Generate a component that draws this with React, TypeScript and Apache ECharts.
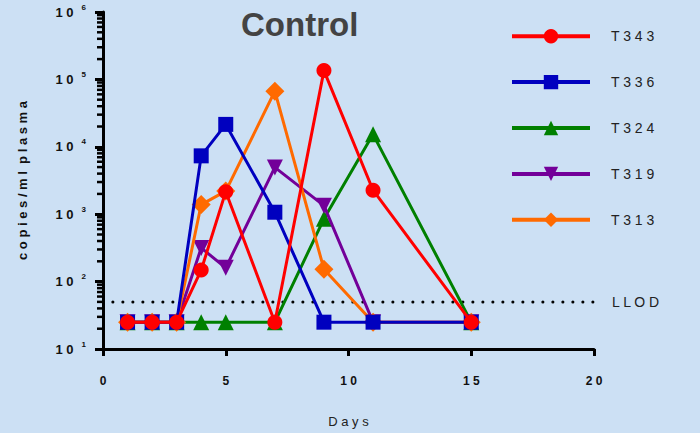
import React, { useEffect, useRef } from "react";
import * as echarts from "echarts";

const days = [1, 2, 3, 4, 5, 7, 9, 11, 15];
const t343 = [25, 25, 25, 148, 2160, 25, 135000, 2270, 25];
const t336 = [25, 25, 25, 7340, 21500, 1070, 25, 25, 25];
const t324 = [25, 25, 25, 25, 25, 25, 855, 15300, 25];
const t319 = [25, 25, 25, 316, 160, 4950, 1340, 25, 25];
const t313 = [25, 25, 25, 1390, 2200, 66800, 153, 25, 25];
const llod = 50;
const llodX = [0.4, 20.6];
const seriesNames = ["T 3 4 3", "T 3 3 6", "T 3 2 4", "T 3 1 9", "T 3 1 3"];
const xTicks = [0, 5, 10, 15, 20];
const minorMultipliers = [2, 3, 4, 5, 6, 7, 8, 9];
const decades = [10, 100, 1000, 10000, 100000];

const FONT = "Liberation Sans, Arial, sans-serif";

export default function App() {
  const ref = useRef<HTMLDivElement>(null);
  useEffect(() => {
    if (!ref.current) return;
    document.body.style.margin = "0";
    const chart = echarts.init(ref.current, null, { renderer: "svg" });
    const minorVals: number[] = [];
    decades.forEach((d) => minorMultipliers.forEach((k) => minorVals.push(k * d)));
    const mk = (name: string, vals: number[], color: string, symbol: string, size: number, z: number, rot = 0) => ({
      name,
      type: "line",
      data: days.map((d, i) => [d, vals[i]]),
      symbol,
      symbolSize: size,
      symbolRotate: rot,
      z,
      lineStyle: { color, width: 3 },
      itemStyle: { color },
      emphasis: { disabled: true },
    });
    const option: any = {
      animation: false,
      backgroundColor: "#cce0f4",
      textStyle: { fontFamily: FONT },
      title: {
        text: "Control",
        left: 236,
        top: 3,
        textStyle: { fontSize: 33, fontWeight: "bold", color: "#434343", fontFamily: FONT },
      },
      legend: {
        orient: "vertical",
        left: 505,
        top: 24,
        itemWidth: 78,
        itemHeight: 18,
        itemGap: 31.5,
        data: seriesNames,
        selectedMode: false,
        lineStyle: { width: 4 },
        textStyle: { fontSize: 14, color: "#222", fontFamily: FONT, padding: [0, 0, 0, 16] },
      },
      grid: { left: 103, right: 106, top: 12, bottom: 82 },
      xAxis: {
        type: "value",
        min: 0,
        max: 20,
        interval: 5,
        name: "D a y s",
        nameLocation: "middle",
        nameGap: 66,
        nameTextStyle: { fontSize: 13, color: "#222", fontFamily: FONT },
        axisLine: { lineStyle: { color: "#000", width: 3 } },
        axisTick: { length: 7, lineStyle: { color: "#000", width: 3 } },
        axisLabel: {
          margin: 26,
          fontSize: 12,
          fontWeight: "bold",
          color: "#111",
          fontFamily: FONT,
          formatter: (v: number) => (xTicks.includes(v) ? String(v).split("").join(" ") : ""),
        },
        splitLine: { show: false },
      },
      yAxis: {
        type: "log",
        logBase: 10,
        min: 10,
        max: 1000000,
        name: "c o p i e s / m l  p l a s m a",
        nameLocation: "middle",
        nameGap: 74,
        nameTextStyle: { fontSize: 13, fontWeight: "bold", color: "#111", fontFamily: FONT },
        axisLine: { show: true, lineStyle: { color: "#000", width: 3 } },
        axisTick: { show: true, length: 8, lineStyle: { color: "#000", width: 3 } },
        axisLabel: {
          margin: 17,
          formatter: (v: number) => `{b|1 0}{s|${Math.round(Math.log10(v))}}`,
          rich: {
            b: { fontSize: 13, fontWeight: "bold", color: "#111", fontFamily: FONT },
            s: { fontSize: 8, fontWeight: "bold", color: "#111", fontFamily: FONT, padding: [0, 0, 10, 8] },
          },
        },
        splitLine: { show: false },
      },
      series: [
        {
          name: "LLOD",
          type: "line",
          data: llodX.map((x) => [x, llod]),
          symbol: "none",
          clip: false,
          z: 1,
          silent: true,
          lineStyle: { color: "#000", width: 3, type: [0.1, 9.9], cap: "round" },
          endLabel: {
            show: true,
            formatter: "L L O D",
            distance: 16,
            fontSize: 14,
            color: "#222",
            fontFamily: FONT,
          },
        },
        mk(seriesNames[2], t324, "#008000", "triangle", 16, 2),
        mk(seriesNames[3], t319, "#730099", "triangle", 16, 3, 180),
        mk(seriesNames[4], t313, "#ff6a00", "diamond", 19, 4),
        mk(seriesNames[1], t336, "#0000bf", "rect", 15, 5),
        mk(seriesNames[0], t343, "#ff0000", "circle", 15, 6),
      ],
    };
    chart.setOption(option);
    const tickEls = minorVals.map((v) => {
      const p = chart.convertToPixel({ gridIndex: 0 }, [0, v]) as number[];
      return {
        type: "line",
        z: 100,
        silent: true,
        shape: { x1: p[0] - 6, y1: p[1], x2: p[0], y2: p[1] },
        style: { stroke: "#000", lineWidth: 2.5 },
      };
    });
    chart.setOption({ graphic: { elements: tickEls } });
    return () => chart.dispose();
  }, []);
  return <div ref={ref} style={{ width: 700, height: 433 }} />;
}
